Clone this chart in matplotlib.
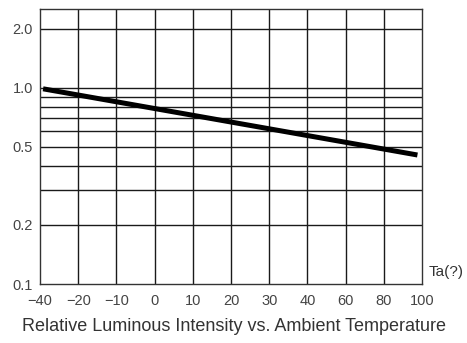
import numpy as np
import matplotlib.pyplot as plt
from matplotlib.ticker import FixedLocator, NullFormatter

plt.rcParams['font.family'] = ['Liberation Sans', 'DejaVu Sans']

# x axis is drawn with evenly spaced (non-linear) temperature labels
temp_labels = ['\u221240', '\u221220', '\u221210', '0', '10', '20', '30', '40', '60', '80', '100']
# line end points, in tick-position units, and relative intensity
line_pos = [0.08, 9.88]
line_val = [0.99, 0.455]

y_labels = [0.1, 0.2, 0.5, 1.0, 2.0]
y_grid = [0.2, 0.3, 0.4, 0.5, 0.6, 0.7, 0.8, 0.9, 1.0, 2.0]

fig = plt.figure(figsize=(4.67, 3.43), dpi=100)
ax = fig.add_axes([0.0857, 0.172, 0.818, 0.802])

ax.set_yscale('log')
ax.set_ylim(0.1, 2.53)
ax.set_xlim(0, len(temp_labels) - 1)

ax.plot(line_pos, line_val, color='black', lw=3.6, solid_capstyle='butt')

ax.yaxis.set_major_locator(FixedLocator(y_labels))
ax.set_yticklabels(['%.1f' % v for v in y_labels])
ax.yaxis.set_minor_locator(FixedLocator(y_grid))
ax.yaxis.set_minor_formatter(NullFormatter())
ax.set_xticks(range(len(temp_labels)))
ax.set_xticklabels(temp_labels)

ax.grid(False)
for v in y_grid:
    ax.axhline(v, color='#1a1a1a', lw=1.0, zorder=1)
for p in range(1, len(temp_labels) - 1):
    ax.axvline(p, color='#1a1a1a', lw=1.0, zorder=1)

ax.tick_params(which='both', length=0, labelsize=10.5, colors='#444444')
ax.tick_params(axis='x', pad=7)
ax.tick_params(axis='y', pad=5)
for s in ax.spines.values():
    s.set_color('#333333')
    s.set_linewidth(1.0)

fig.text(0.917, 0.207, 'Ta(?)', fontsize=11, color='#333333', ha='left', va='center')
fig.text(0.5, 0.047, 'Relative Luminous Intensity vs. Ambient Temperature',
         fontsize=13, color='#333333', ha='center', va='center')

fig.savefig('out.png', dpi=100)
